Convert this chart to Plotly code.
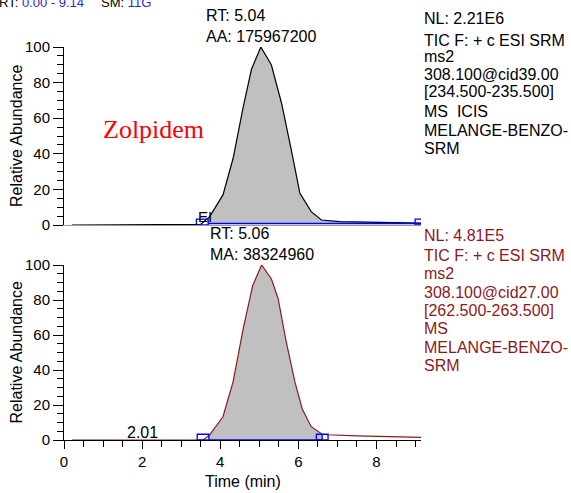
import numpy as np
import plotly.graph_objects as go

W, H = 571, 493

# Chromatogram 1: Zolpidem, 308.1 -> 235 transition
top_time = [0.20, 1.00, 2.00, 3.00, 3.50, 3.73, 4.07, 4.33, 4.59, 4.80, 5.04,
            5.31, 5.57, 5.82, 6.04, 6.33, 6.59, 7.06, 8.00, 9.14]
top_abund = [0.0, 0.0, 0.0, 0.1, 0.4, 4.7, 16.9, 37.5, 66.5, 87.5, 100.0,
             89.9, 68.4, 42.0, 17.8, 7.5, 2.8, 1.9, 1.4, 1.1]

# Chromatogram 2: 308.1 -> 263 transition
bot_time = [0.20, 1.00, 2.01, 3.00, 3.56, 3.73, 4.07, 4.33, 4.59, 4.83, 5.06,
            5.31, 5.48, 5.69, 5.91, 6.10, 6.33, 6.61, 6.76, 7.50, 8.50, 9.14]
bot_abund = [0.0, 0.0, 0.1, 0.0, 0.0, 2.9, 13.3, 33.3, 63.8, 88.2, 100.0,
             92.0, 81.0, 56.0, 33.3, 17.7, 7.6, 3.3, 3.0, 2.4, 1.8, 1.5]

# Integrated peak descriptors (top, bottom)
peak_rt = [5.04, 5.06]
peak_area_text = ["AA: 175967200", "MA: 38324960"]
peak_start = [3.69, 3.71]
peak_end = [9.14, 6.61]
baseline_level = [0.8, 0.0]
minor_peak_rt = 2.01

x_ticks = [0, 2, 4, 6, 8]
y_ticks = [0, 20, 40, 60, 80, 100]

top_info = ["NL: 2.21E6", "TIC F: + c ESI SRM", "ms2", "308.100@cid39.00",
            "[234.500-235.500]", "MS  ICIS", "MELANGE-BENZO-", "SRM"]
bot_info = ["NL: 4.81E5", "TIC F: + c ESI SRM", "ms2", "308.100@cid27.00",
            "[262.500-263.500]", "MS", "MELANGE-BENZO-", "SRM"]

FONT = "Liberation Sans, Arial, sans-serif"
GRAY_FILL = "#C0C0C0"
BLUE = "#0000FF"
HEADER_BLUE = "#2B2BC8"
DARK_RED = "#8B1A1A"


def px_x(p):
    return p / W


def px_y(p):
    return 1 - p / H


def fill_polygon(t, a, start, end, base):
    t = np.asarray(t, float)
    a = np.asarray(a, float)
    inside = (t > start) & (t < end)
    xs = [start] + list(t[inside]) + [end]
    ys = [float(np.interp(start, t, a))] + list(a[inside]) + [float(np.interp(end, t, a))]
    return xs + [end, start], ys + [base, base]


fig = go.Figure()

traces = [(top_time, top_abund, "black", "x", "y"),
          (bot_time, bot_abund, DARK_RED, "x2", "y2")]

for i, (t, a, col, xa, ya) in enumerate(traces):
    fx, fy = fill_polygon(t, a, peak_start[i], peak_end[i], baseline_level[i])
    fig.add_trace(go.Scatter(x=fx, y=fy, fill="toself", fillcolor=GRAY_FILL,
                             line=dict(width=0), mode="lines", hoverinfo="skip",
                             xaxis=xa, yaxis=ya, showlegend=False))
    fig.add_trace(go.Scatter(x=t, y=a, mode="lines", line=dict(color=col, width=1.2),
                             xaxis=xa, yaxis=ya, showlegend=False))
    # integration baseline
    fig.add_trace(go.Scatter(x=[peak_start[i], peak_end[i]],
                             y=[baseline_level[i], baseline_level[i]],
                             mode="lines", line=dict(color=BLUE, width=1.5),
                             xaxis=xa, yaxis=ya, showlegend=False))

# peak boundary markers
shapes = []
for i, (xr, yr) in enumerate([("x", "y"), ("x2", "y2")]):
    s, e = peak_start[i], peak_end[i]
    shapes.append(dict(type="rect", xref=xr, yref=yr, x0=s - 0.30, x1=s, y0=0, y1=3.3,
                       line=dict(color=BLUE, width=1.3)))
    shapes.append(dict(type="rect", xref=xr, yref=yr, x0=e - 0.15, x1=e + 0.15, y0=0, y1=3.3,
                       line=dict(color=BLUE, width=1.3)))
    if i == 1:
        shapes.append(dict(type="line", xref=xr, yref=yr, x0=e, x1=e, y0=0, y1=3.3,
                           line=dict(color=BLUE, width=1.3)))

x_dom = [px_x(64), px_x(421)]
top_dom = [px_y(225), px_y(47)]
bot_dom = [px_y(440), px_y(265)]

yaxis_common = dict(range=[0, 100], tickvals=y_ticks, ticks="outside", automargin=False,
                    ticklen=10, tickcolor="black", showline=True, linecolor="black",
                    linewidth=1, showgrid=False, zeroline=False,
                    tickfont=dict(family=FONT, size=15, color="black"),
                    minor=dict(dtick=5, ticks="outside", ticklen=6, tickcolor="black"))

fig.update_layout(
    width=W, height=H, margin=dict(l=0, r=0, t=0, b=0, autoexpand=False),
    paper_bgcolor="white", plot_bgcolor="white",
    xaxis=dict(domain=x_dom, range=[0, 9.14], anchor="y", showticklabels=False,
               automargin=False, ticks="", showline=True, linecolor="#999999",
               showgrid=False, zeroline=False),
    yaxis=dict(domain=top_dom, anchor="x", **yaxis_common),
    xaxis2=dict(domain=x_dom, range=[0, 9.14], anchor="y2", tickvals=x_ticks,
                automargin=False, ticks="outside", ticklen=8, tickcolor="black",
                showline=True, linecolor="black", showgrid=False, zeroline=False,
                tickfont=dict(family=FONT, size=15, color="black"),
                minor=dict(dtick=0.5, ticks="outside", ticklen=6, tickcolor="black")),
    yaxis2=dict(domain=bot_dom, anchor="x2", **yaxis_common),
    shapes=shapes,
)

ann = []
# header line (run time range and smoothing)
ann.append(dict(xref="paper", yref="paper", x=px_x(-3), y=px_y(12), xanchor="left",
                yanchor="bottom", showarrow=False,
                text=f"RT: <span style='color:{HEADER_BLUE}'>0.00 - 9.14</span>",
                font=dict(family=FONT, size=13, color="black")))
ann.append(dict(xref="paper", yref="paper", x=px_x(99), y=px_y(12), xanchor="left",
                yanchor="bottom", showarrow=False,
                text=f"SM: <span style='color:{HEADER_BLUE}'>11G</span>",
                font=dict(family=FONT, size=13, color="black")))

# axis titles
for dom in (top_dom, bot_dom):
    ann.append(dict(xref="paper", yref="paper", x=px_x(16), y=(dom[0] + dom[1]) / 2,
                    xanchor="center", yanchor="middle", textangle=-90, showarrow=False,
                    text="Relative Abundance",
                    font=dict(family=FONT, size=16, color="black")))
ann.append(dict(xref="paper", yref="paper", x=(x_dom[0] + x_dom[1]) / 2, y=px_y(481),
                xanchor="center", yanchor="middle", showarrow=False, text="Time (min)",
                font=dict(family=FONT, size=16, color="black")))

# apex labels
for i, (xr, yr) in enumerate([("x", "y"), ("x2", "y2")]):
    ann.append(dict(xref=xr, yref=yr, x=peak_rt[i], y=100, xanchor="center",
                    yanchor="bottom", showarrow=False, align="left", yshift=0,
                    text=f"RT: {peak_rt[i]:.2f}<br>{peak_area_text[i]}",
                    font=dict(family=FONT, size=16, color="black")))
ann.append(dict(xref="x2", yref="y2", x=minor_peak_rt, y=0, xanchor="center",
                yanchor="bottom", showarrow=False, yshift=-3, text=f"{minor_peak_rt:.2f}",
                font=dict(family=FONT, size=16, color="black")))
ann.append(dict(xref="x", yref="y", x=3.62, y=0, xanchor="center", yanchor="bottom",
                showarrow=False, yshift=-2, text="EI",
                font=dict(family=FONT, size=15, color="black")))
ann.append(dict(xref="paper", yref="paper", x=px_x(101), y=px_y(129), xanchor="left",
                yanchor="middle", showarrow=False, text="Zolpidem",
                font=dict(family="Liberation Serif, Times New Roman, serif", size=26,
                          color="#FF0000")))

top_rows = [18, 40, 57, 74, 92, 111, 130, 148]
bot_rows = [235, 255, 273, 292, 310, 328, 347, 365]
for lines, rows, col in [(top_info, top_rows, "black"), (bot_info, bot_rows, DARK_RED)]:
    for txt, r in zip(lines, rows):
        ann.append(dict(xref="paper", yref="paper", x=px_x(422), y=px_y(r),
                        xanchor="left", yanchor="middle", showarrow=False, text=txt,
                        font=dict(family=FONT, size=16, color=col)))

fig.update_layout(annotations=ann)
fig.write_html("out.html")
